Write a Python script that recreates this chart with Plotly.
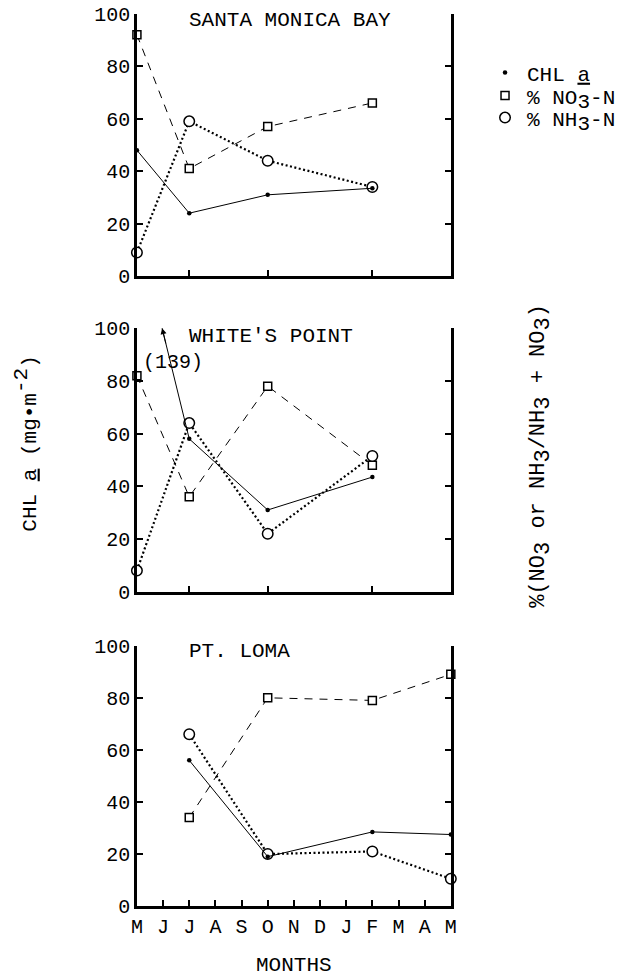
import plotly.graph_objects as go

# ---------------- data ----------------
month_labels = ["M", "J", "J", "A", "S", "O", "N", "D", "J", "F", "M", "A", "M"]
month_pos = list(range(len(month_labels)))

stations = ["SANTA MONICA BAY", "WHITE'S POINT", "PT. LOMA"]

smb_x = [0, 2, 5, 9]
smb_chl = [48, 24, 31, 33.5]
smb_no3 = [92, 41, 57, 66]
smb_nh3 = [9, 59, 44, 34]

wp_x = [0, 2, 5, 9]
wp_chl = [139, 58, 31, 43.5]
wp_no3 = [82, 36, 78, 48]
wp_nh3 = [8, 64, 22, 51.5]

pl_x = [2, 5, 9, 12]
pl_chl = [56, 19, 28.5, 27.5]
pl_no3 = [34, 80, 79, 89]
pl_nh3 = [66, 20, 21, 10.5]

panels = [
    (smb_x, smb_chl, smb_no3, smb_nh3),
    (wp_x, wp_chl, wp_no3, wp_nh3),
    (pl_x, pl_chl, pl_no3, pl_nh3),
]

y_ticks = [0, 20, 40, 60, 80, 100]

# ---------------- layout geometry ----------------
W, H = 630, 979
S = 0.975  # empirical shrink of the photographed page about its centre
FONT = "Liberation Mono"
FS = 20


def px_x(p):
    return (W / 2 + (p - W / 2) / S) / W


def px_y(p):
    return 1 - (490 + (p - 490) / S) / H


x_dom = [px_x(138), px_x(450)]
y_doms = [
    [px_y(278), px_y(16)],
    [px_y(593), px_y(330)],
    [px_y(907), px_y(647)],
]


def full(s, size=FS + 1):
    """full-size subscript / superscript like the typewriter original"""
    return f'<span style="font-size:{size}px">{s}</span>'


fig = go.Figure()

styles = {
    "chl": dict(line=dict(color="black", width=1, dash="solid"),
                marker=dict(symbol="circle", size=4.5, color="black")),
    "no3": dict(line=dict(color="black", width=1, dash="8px,7px"),
                marker=dict(symbol="square", size=8, color="white",
                            line=dict(color="black", width=1.5))),
    "nh3": dict(line=dict(color="black", width=2.2, dash="2px,2.5px"),
                marker=dict(symbol="circle", size=10.5, color="white",
                            line=dict(color="black", width=1.5))),
}

for i, (xs, chl, no3, nh3) in enumerate(panels):
    xa = "x" if i == 0 else f"x{i+1}"
    ya = "y" if i == 0 else f"y{i+1}"
    for key, vals in (("no3", no3), ("nh3", nh3), ("chl", chl)):
        fig.add_trace(go.Scatter(
            x=xs, y=vals, mode="lines+markers", xaxis=xa, yaxis=ya,
            showlegend=False, cliponaxis=False, hoverinfo="skip",
            **styles[key]))

# legend entries (markers only), each in its own legend box
legend_names = ["CHL <u>a</u>",
                f"% NO<sub>{full('3')}</sub>-N",
                f"% NH<sub>{full('3')}</sub>-N"]
legend_ids = ["legend", "legend2", "legend3"]
for key, name, lid in zip(("chl", "no3", "nh3"), legend_names, legend_ids):
    st = styles[key]
    fig.add_trace(go.Scatter(x=[None], y=[None], mode="markers", name=name,
                             marker=st["marker"], showlegend=True, legend=lid))

axis_common = dict(showgrid=False, zeroline=False, showline=True,
                   linecolor="black", linewidth=2.5, ticks="inside",
                   tickcolor="black", tickwidth=2,
                   tickfont=dict(family=FONT, size=FS, color="black"))

legend_common = dict(xanchor="left", yanchor="middle",
                     font=dict(family=FONT, size=FS + 1, color="black"),
                     bgcolor="rgba(0,0,0,0)", itemwidth=34)

layout = dict(
    width=W, height=H, margin=dict(l=0, r=0, t=0, b=0),
    paper_bgcolor="white", plot_bgcolor="white",
    font=dict(family=FONT, size=FS, color="black"),
    showlegend=True,
    legend=dict(legend_common, x=px_x(482), y=px_y(75)),
    legend2=dict(legend_common, x=px_x(482), y=px_y(98)),
    legend3=dict(legend_common, x=px_x(482), y=px_y(120)),
)

for i in range(3):
    xk = "xaxis" if i == 0 else f"xaxis{i+1}"
    yk = "yaxis" if i == 0 else f"yaxis{i+1}"
    ya_anchor = "y" if i == 0 else f"y{i+1}"
    xa_anchor = "x" if i == 0 else f"x{i+1}"
    if i == 2:
        xt = dict(tickvals=month_pos, ticktext=month_labels,
                  showticklabels=True, ticklabelstandoff=0)
    else:
        xt = dict(tickvals=panels[i][0][1:], showticklabels=False)
    layout[xk] = dict(axis_common, domain=x_dom, range=[0, 12],
                      anchor=ya_anchor, ticklen=6, **xt)
    layout[yk] = dict(axis_common, domain=y_doms[i], range=[0, 100],
                      anchor=xa_anchor, tickvals=y_ticks, ticklen=6,
                      mirror="ticks", ticklabelstandoff=0)

fig.update_layout(**layout)

ann = []
title_y = [23, 338, 653]
for i, name in enumerate(stations):
    ann.append(dict(text=name, xref="paper", yref="paper",
                    x=px_x(188), y=px_y(title_y[i]),
                    xanchor="left", yanchor="middle", showarrow=False,
                    font=dict(family=FONT, size=FS + 1, color="black")))

# off-scale arrow for White's Point CHL (computed from data)
frac = (100 - wp_chl[1]) / (wp_chl[0] - wp_chl[1])
x_hit = wp_x[1] - frac * (wp_x[1] - wp_x[0])
ann.append(dict(x=x_hit, y=100, xref="x2", yref="y2",
                ax=x_hit + 0.15 * (wp_x[1] - x_hit), ay=100 - 0.15 * (100 - wp_chl[1]),
                axref="x2", ayref="y2", text="", showarrow=True,
                arrowhead=2, arrowsize=1.2, arrowwidth=1, arrowcolor="black"))
ann.append(dict(text=f"({wp_chl[0]})", x=0.15, y=87, xref="x2", yref="y2",
                xanchor="left", yanchor="middle", showarrow=False,
                font=dict(family=FONT, size=FS, color="black")))

# axis titles
ann.append(dict(text=f"CHL <u>a</u> (mg•m<sup>{full('-2')}</sup>)",
                xref="paper", yref="paper",
                x=px_x(28), y=px_y(445), textangle=-90, showarrow=False,
                xanchor="center", yanchor="middle",
                font=dict(family=FONT, size=FS + 1, color="black")))
s3 = f"<sub>{full('3', 22)}</sub>"
ann.append(dict(text=f"%(NO{s3} or NH{s3}/NH{s3} + NO{s3})",
                xref="paper", yref="paper",
                x=px_x(540), y=px_y(457), textangle=-90, showarrow=False,
                xanchor="center", yanchor="middle",
                font=dict(family=FONT, size=22, color="black")))
ann.append(dict(text="MONTHS", xref="paper", yref="paper",
                x=px_x(294), y=px_y(966), showarrow=False,
                xanchor="center", yanchor="middle",
                font=dict(family=FONT, size=FS + 1, color="black")))

fig.update_layout(annotations=ann)
fig.write_html("out.html")
